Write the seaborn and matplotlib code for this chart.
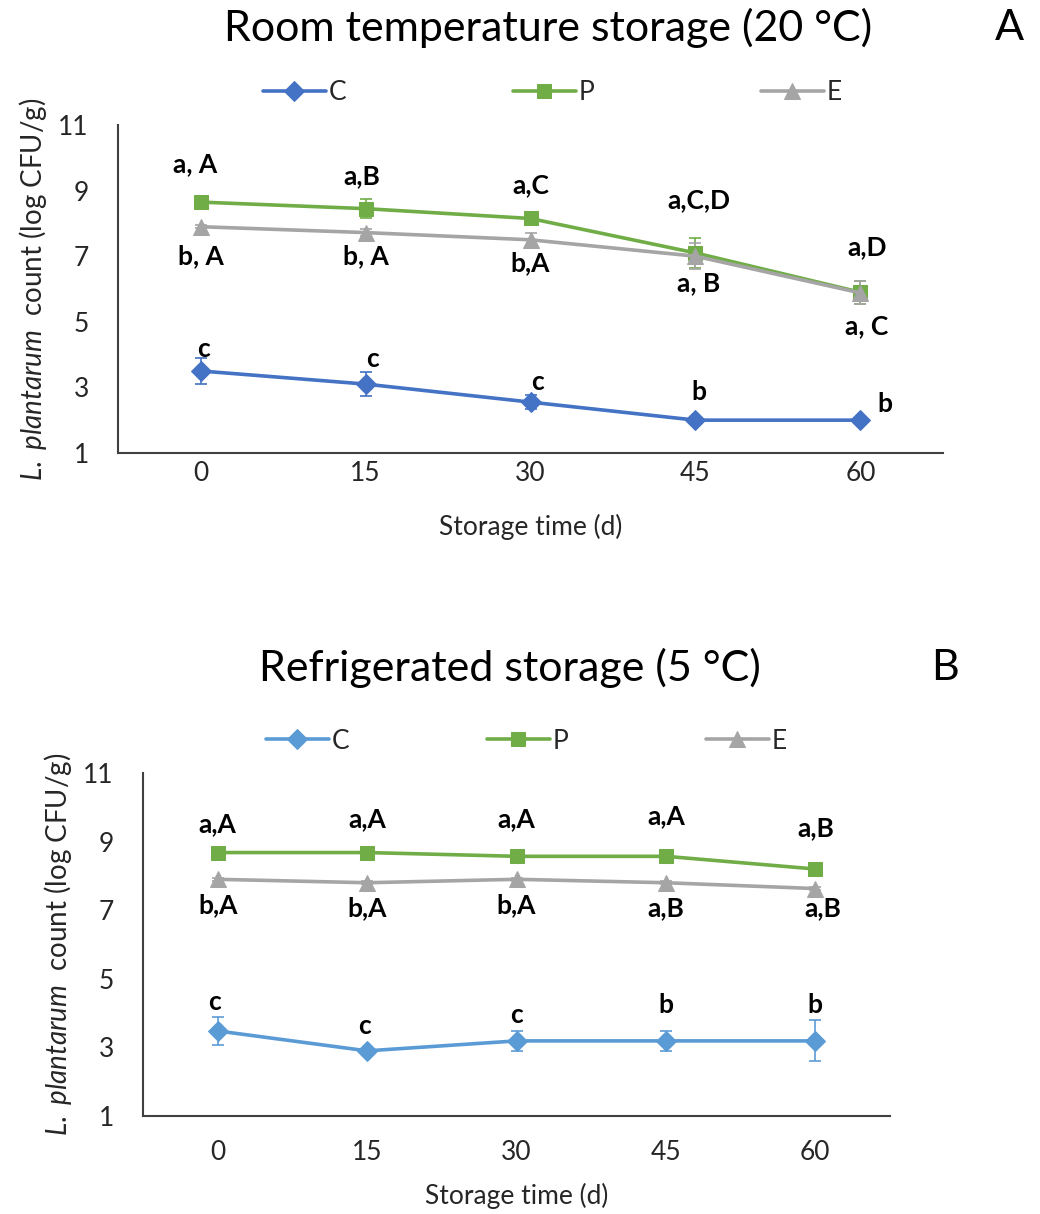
import numpy as np
import pandas as pd
import matplotlib
matplotlib.use('Agg')
import matplotlib.pyplot as plt
import seaborn as sns

# storage times (days)
days = [0, 15, 30, 45, 60]

# room temperature storage (20 C)
room_C = [3.5, 3.1, 2.55, 2.0, 2.0]
room_P = [8.65, 8.45, 8.15, 7.1, 5.9]
room_E = [7.9, 7.72, 7.5, 7.0, 5.88]
room_C_sd = [0.4, 0.37, 0.22, 0.05, 0.05]
room_P_sd = [0.1, 0.3, 0.1, 0.45, 0.35]
room_E_sd = [0.05, 0.1, 0.22, 0.4, 0.35]
room_C_lab = ['c', 'c', 'c', 'b', 'b']
room_P_lab = ['a, A', 'a,B', 'a,C', 'a,C,D', 'a,D']
room_E_lab = ['b, A', 'b, A', 'b,A', 'a, B', 'a, C']

# refrigerated storage (5 C)
fridge_C = [3.48, 2.9, 3.19, 3.19, 3.19]
fridge_P = [8.68, 8.68, 8.57, 8.57, 8.2]
fridge_E = [7.9, 7.8, 7.9, 7.8, 7.63]
fridge_C_sd = [0.4, 0.05, 0.28, 0.28, 0.6]
fridge_P_sd = [0.05, 0.05, 0.05, 0.05, 0.05]
fridge_E_sd = [0.05, 0.05, 0.05, 0.05, 0.05]
fridge_C_lab = ['c', 'c', 'c', 'b', 'b']
fridge_P_lab = ['a,A', 'a,A', 'a,A', 'a,A', 'a,B']
fridge_E_lab = ['b,A', 'b,A', 'b,A', 'a,B', 'a,B']

# label offsets (layout only): (dx in categories, dy in log units)
room_off = {
    'C': ([0.02, 0.04, 0.04, 0.02, 0.15], [0.68, 0.78, 0.62, 0.86, 0.48]),
    'P': ([-0.03, -0.02, 0.0, 0.02, 0.04], [1.15, 0.99, 1.03, 1.62, 1.37]),
    'E': ([0.0, 0.0, 0.0, 0.02, 0.04], [-0.91, -0.73, -0.7, -0.82, -1.01]),
}
fridge_off = {
    'C': ([-0.02, -0.02, 0.0, 0.0, 0.0], [0.83, 0.71, 0.76, 1.06, 1.06]),
    'P': ([0.0, 0.0, 0.0, 0.0, 0.0], [0.82, 0.96, 1.07, 1.17, 1.2]),
    'E': ([0.0, 0.0, 0.0, 0.0, 0.05], [-0.74, -0.73, -0.74, -0.73, -0.56]),
}

sns.set_theme(style='white')
plt.rcParams['font.family'] = ['Lato', 'DejaVu Sans']
plt.rcParams['mathtext.fontset'] = 'custom'
plt.rcParams['mathtext.it'] = 'Lato:italic'
plt.rcParams['mathtext.rm'] = 'Lato'

TXT = '#262626'
AX = '#404040'
GREEN = '#70AD47'
GRAY = '#A5A5A5'
FS = 19

fig = plt.figure(figsize=(10.4, 12.14), dpi=100)
ax1 = fig.add_axes([0.1135, 0.6269, 0.7932, 0.2701])
ax2 = fig.add_axes([0.1375, 0.0807, 0.7183, 0.2826])

pos = np.arange(len(days))


def draw_panel(ax, blue, series, offsets, xpad, xlabpad):
    styles = {'C': (blue, 'D', 10), 'P': (GREEN, 's', 10), 'E': (GRAY, '^', 11)}
    for name in ['C', 'P', 'E']:
        vals, sd, labs = series[name]
        col, mk, ms = styles[name]
        ax.errorbar(pos, vals, yerr=sd, fmt='none', ecolor=col, elinewidth=1.2,
                    capsize=4, capthick=1.2, zorder=3)
        sns.lineplot(x=pos, y=vals, color=col, marker=mk, markersize=ms,
                     markeredgecolor=col, linewidth=2.6, label=name, ax=ax, zorder=4)
        dxs, dys = offsets[name]
        for i, lab in enumerate(labs):
            ax.text(pos[i] + dxs[i], vals[i] + dys[i], lab, ha='center', va='center',
                    fontsize=FS, fontweight='bold', color='black')

    ax.set_xlim(-0.5, 4.5)
    ax.set_ylim(1, 11)
    ax.set_yticks([1, 3, 5, 7, 9, 11])
    ax.set_xticks(pos)
    ax.set_xticklabels([str(d) for d in days])
    ax.set_xticks([4.5], minor=True)
    for s in ['top', 'right']:
        ax.spines[s].set_visible(False)
    for s in ['left', 'bottom']:
        ax.spines[s].set_color(AX)
        ax.spines[s].set_linewidth(1.5)
    ax.tick_params(axis='both', which='both', direction='in', length=5, width=1.5,
                   color=AX, labelsize=FS, labelcolor=TXT)
    ax.tick_params(axis='y', pad=21)
    ax.tick_params(axis='x', pad=xpad)
    ax.set_xlabel('Storage time (d)', fontsize=FS, color=TXT, labelpad=xlabpad)
    ax.set_ylabel(r'$\it{L.\ plantarum}$  count (log CFU/g)', fontsize=FS + 1, color=TXT,
                  labelpad=7)


draw_panel(ax1, '#4472C4',
           {'C': (room_C, room_C_sd, room_C_lab),
            'P': (room_P, room_P_sd, room_P_lab),
            'E': (room_E, room_E_sd, room_E_lab)}, room_off, 6, 20)
draw_panel(ax2, '#5B9BD5',
           {'C': (fridge_C, fridge_C_sd, fridge_C_lab),
            'P': (fridge_P, fridge_P_sd, fridge_P_lab),
            'E': (fridge_E, fridge_E_sd, fridge_E_lab)}, fridge_off, 17, 13)

ax1.legend(loc='center', bbox_to_anchor=(0.531, 0.924), bbox_transform=fig.transFigure,
           ncol=3, frameon=False, fontsize=FS, handlelength=2.4, handletextpad=0.1,
           columnspacing=6.3, labelcolor=TXT)
ax2.legend(loc='center', bbox_to_anchor=(0.506, 0.3896), bbox_transform=fig.transFigure,
           ncol=3, frameon=False, fontsize=FS, handlelength=2.4, handletextpad=0.1,
           columnspacing=5.2, labelcolor=TXT)

fig.text(0.527, 0.977, 'Room temperature storage (20 °C)', ha='center', va='center',
         fontsize=31, color='black')
fig.text(0.971, 0.977, 'A', ha='center', va='center', fontsize=31, color='black')
fig.text(0.490, 0.4497, 'Refrigerated storage (5 °C)', ha='center', va='center',
         fontsize=31, color='black')
fig.text(0.909, 0.4497, 'B', ha='center', va='center', fontsize=31, color='black')

fig.savefig('out.png', dpi=100)
